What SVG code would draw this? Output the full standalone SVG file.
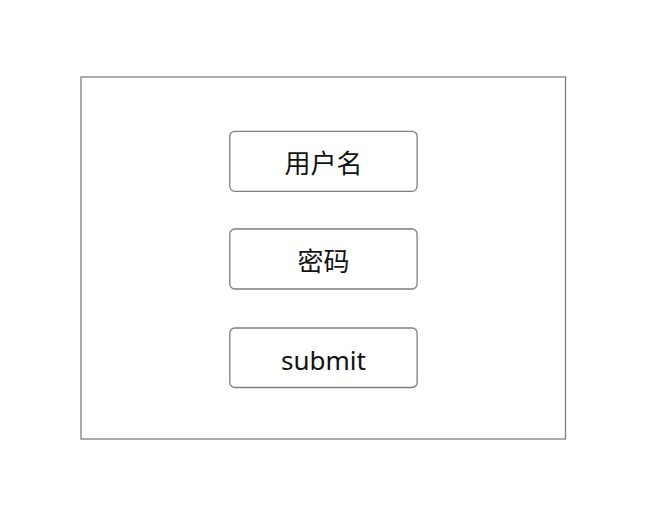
<svg xmlns="http://www.w3.org/2000/svg" width="652" height="513" viewBox="0 0 652 513">
<style>
.frame{fill:#fff;stroke:#7f7f7f;stroke-width:1.3}
.box{fill:#fff;stroke:#7f7f7f;stroke-width:1.3}
.lbl{font-family:"Noto Sans","Noto Sans CJK SC",sans-serif;font-size:26px;fill:#111;text-anchor:middle}
</style>
<rect width="652" height="513" fill="#fff"/>
<g id="form"><rect class="frame" x="81" y="77" width="484.5" height="362"/></g>
<g id="connectors"></g>
<g id="username"><rect class="box" x="229.8" y="131.3" width="187.3" height="60" rx="5"/><text class="lbl" x="323.5" y="173">用户名</text></g>
<g id="password"><rect class="box" x="229.8" y="229" width="187.3" height="60" rx="5"/><text class="lbl" x="323.5" y="271">密码</text></g>
<g id="submit"><rect class="box" x="229.8" y="328" width="187.3" height="59.5" rx="5"/><text class="lbl" x="323.5" y="369.5">submit</text></g>
</svg>
